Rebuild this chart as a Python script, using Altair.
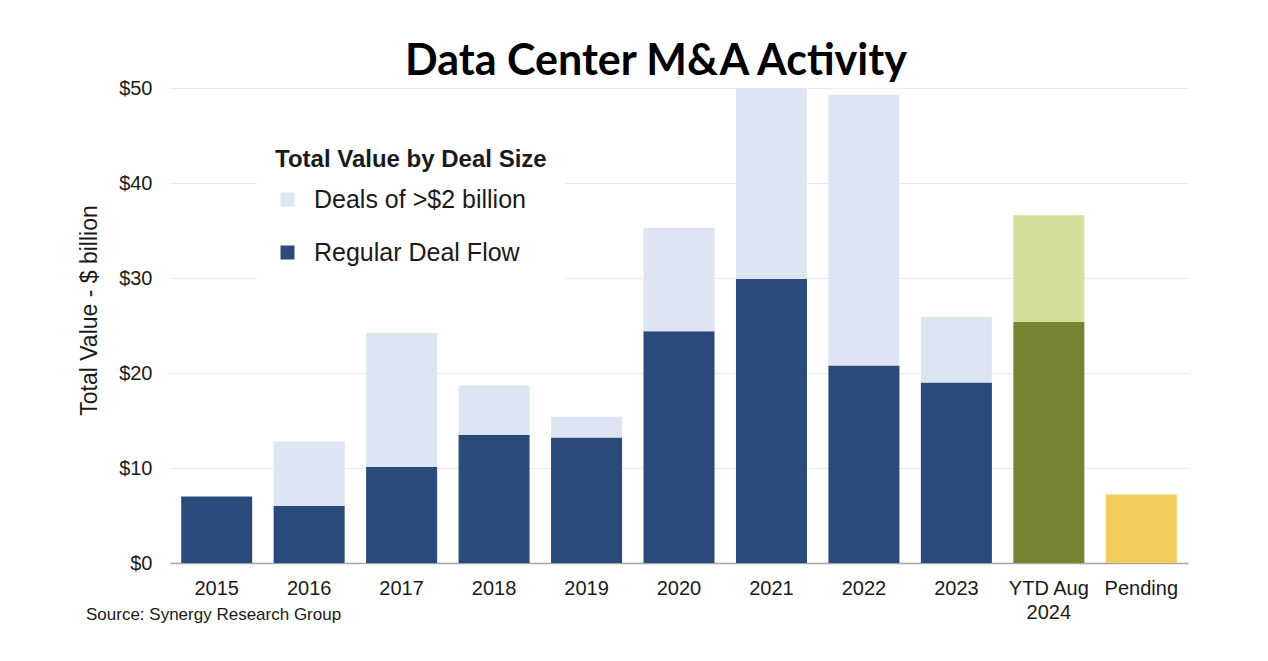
import altair as alt
import pandas as pd

categories = ["2015", "2016", "2017", "2018", "2019", "2020", "2021", "2022", "2023", "YTD Aug 2024", "Pending"]
regular_deal_flow = [7.0, 6.0, 10.1, 13.5, 13.2, 24.4, 29.9, 20.8, 19.0, 25.4, 7.2]
large_deals = [0.0, 6.8, 14.1, 5.2, 2.2, 10.9, 20.1, 28.5, 6.9, 11.2, 0.0]
y_ticks = [0, 10, 20, 30, 40, 50]

seg_domain = ["Deals of >$2 billion", "Regular Deal Flow", "YTD regular", "YTD large", "Pending"]
seg_range = ["#DCE5F1", "#294A7A", "#758430", "#D4DF9B", "#F2CD5E"]

rows = []
for cat, reg, big in zip(categories, regular_deal_flow, large_deals):
    if cat == "YTD Aug 2024":
        rows.append({"cat": cat, "seg": "YTD regular", "value": reg, "ord": 0})
        rows.append({"cat": cat, "seg": "YTD large", "value": big, "ord": 1})
    elif cat == "Pending":
        rows.append({"cat": cat, "seg": "Pending", "value": reg, "ord": 0})
    else:
        rows.append({"cat": cat, "seg": "Regular Deal Flow", "value": reg, "ord": 0})
        rows.append({"cat": cat, "seg": "Deals of >$2 billion", "value": big, "ord": 1})
df = pd.DataFrame(rows)

W, H = 1018, 475

bars = alt.Chart(df).mark_bar(size=71).encode(
    x=alt.X("cat:N", sort=categories, title=None,
            scale=alt.Scale(paddingInner=0.23, paddingOuter=0.12),
            axis=alt.Axis(labelAngle=0, ticks=False, domainColor="#A6A6A6", domainWidth=1.5,
                          labelFont="Liberation Sans", labelFontSize=20, labelColor="#1a1a1a",
                          labelPadding=15, labelLineHeight=24,
                          labelExpr="datum.label == 'YTD Aug 2024' ? ['YTD Aug', '2024'] : datum.label")),
    y=alt.Y("value:Q", stack="zero", title="Total Value - $ billion",
            scale=alt.Scale(domain=[0, 50], nice=False),
            axis=alt.Axis(values=y_ticks, domain=False, ticks=False, gridColor="#EBEBEB",
                          labelFont="Liberation Sans", labelFontSize=20, labelColor="#1a1a1a",
                          labelPadding=18, labelExpr="'$' + datum.value",
                          titleFont="Liberation Sans", titleFontSize=23, titleFontWeight="normal",
                          titleColor="#1a1a1a", titlePadding=17, titleY=222)),
    color=alt.Color("seg:N", scale=alt.Scale(domain=seg_domain, range=seg_range),
                    legend=alt.Legend(values=["Deals of >$2 billion", "Regular Deal Flow"],
                                      title="Total Value by Deal Size", orient="none",
                                      legendX=87, legendY=42, fillColor="white", padding=18,
                                      symbolType="square", symbolSize=196, symbolStrokeWidth=0,
                                      titleFont="Liberation Sans", titleFontSize=24, titleFontWeight="bold",
                                      titleColor="#1a1a1a", titlePadding=15, titleLimit=500,
                                      labelFont="Liberation Sans", labelFontSize=25, labelColor="#1a1a1a",
                                      labelOffset=14, rowPadding=27, labelLimit=500)),
    order=alt.Order("ord:Q"),
)

source = alt.Chart(pd.DataFrame({"t": ["Source: Synergy Research Group"]})).mark_text(
    align="left", baseline="middle", font="Liberation Sans", fontSize=17, color="#1a1a1a"
).encode(text="t:N", x=alt.value(-84), y=alt.value(H + 52))

chart = alt.layer(bars, source).properties(
    width=W, height=H,
    autosize=alt.AutoSizeParams(type="none"),
    padding={"left": 162, "top": 80, "right": 60, "bottom": 60},
    title=alt.TitleParams("Data Center M&A Activity", font="Lato", fontSize=43, fontWeight="bold",
                          color="black", anchor="middle", dx=-23, offset=-6),
).configure_view(stroke=None)

chart.save("out.html", embed_options={"renderer": "svg", "actions": False})
